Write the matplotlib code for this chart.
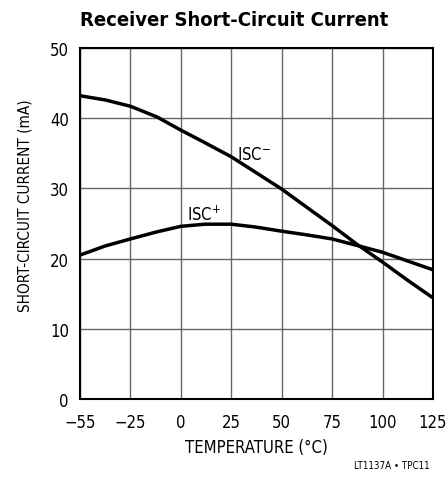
import numpy as np
import matplotlib.pyplot as plt

plt.rcParams['font.family'] = ['DejaVu Sans']
plt.rcParams['font.stretch'] = 'condensed'

# temperature ticks (evenly spaced on the chart even though -55..-25 is 30 degrees)
temp_ticks = [-55, -25, 0, 25, 50, 75, 100, 125]
tick_labels = ["\u221255", "\u221225", "0", "25", "50", "75", "100", "125"]

temp = [-55, -40, -25, -12, 0, 12, 25, 37, 50, 62, 75, 87, 100, 112, 125]
isc_minus = [43.2, 42.6, 41.7, 40.2, 38.3, 36.5, 34.5, 32.3, 29.9, 27.4, 24.7, 22.1, 19.5, 17.0, 14.4]
isc_plus = [20.5, 21.8, 22.8, 23.8, 24.6, 24.9, 24.9, 24.5, 23.9, 23.4, 22.8, 21.9, 20.9, 19.7, 18.4]


def pos(t):
    return np.interp(t, temp_ticks, np.arange(len(temp_ticks)))


fig = plt.figure(figsize=(4.47, 4.89), dpi=100)
ax = fig.add_axes([80 / 447, 1 - 400 / 489, 353 / 447, 351 / 489])

ax.plot(pos(temp), isc_minus, color='black', lw=2.5, solid_capstyle='butt')
ax.plot(pos(temp), isc_plus, color='black', lw=2.5, solid_capstyle='butt')

ax.text(pos(28), 34.2, "ISC$^{-}$", fontsize=12, ha='left', va='baseline')
ax.text(pos(3), 25.6, "ISC$^{+}$", fontsize=12, ha='left', va='baseline')

ax.set_xlim(0, 7)
ax.set_ylim(0, 50)
ax.set_xticks(np.arange(len(temp_ticks)))
ax.set_xticklabels(tick_labels)
ax.set_yticks([0, 10, 20, 30, 40, 50])
ax.tick_params(length=0, labelsize=12)
ax.tick_params(axis='x', pad=10)
ax.tick_params(axis='y', pad=8)
ax.grid(True, color='#666666', lw=1)
for s in ax.spines.values():
    s.set_linewidth(1.5)

ax.set_xlabel("TEMPERATURE (\u00b0C)", fontsize=12, labelpad=5)
ax.set_ylabel("SHORT-CIRCUIT CURRENT (mA)", fontsize=11)
ax.yaxis.set_label_coords(-0.135, 0.553)
fig.text(234 / 447, 1 - 20 / 489, "Receiver Short-Circuit Current", fontsize=14.5,
         fontweight='bold', ha='center', va='center')
fig.text(430 / 447, 1 - 466 / 489, "LT1137A \u2022 TPC11", fontsize=7, ha='right', va='center')

fig.savefig("out.png", dpi=100)
